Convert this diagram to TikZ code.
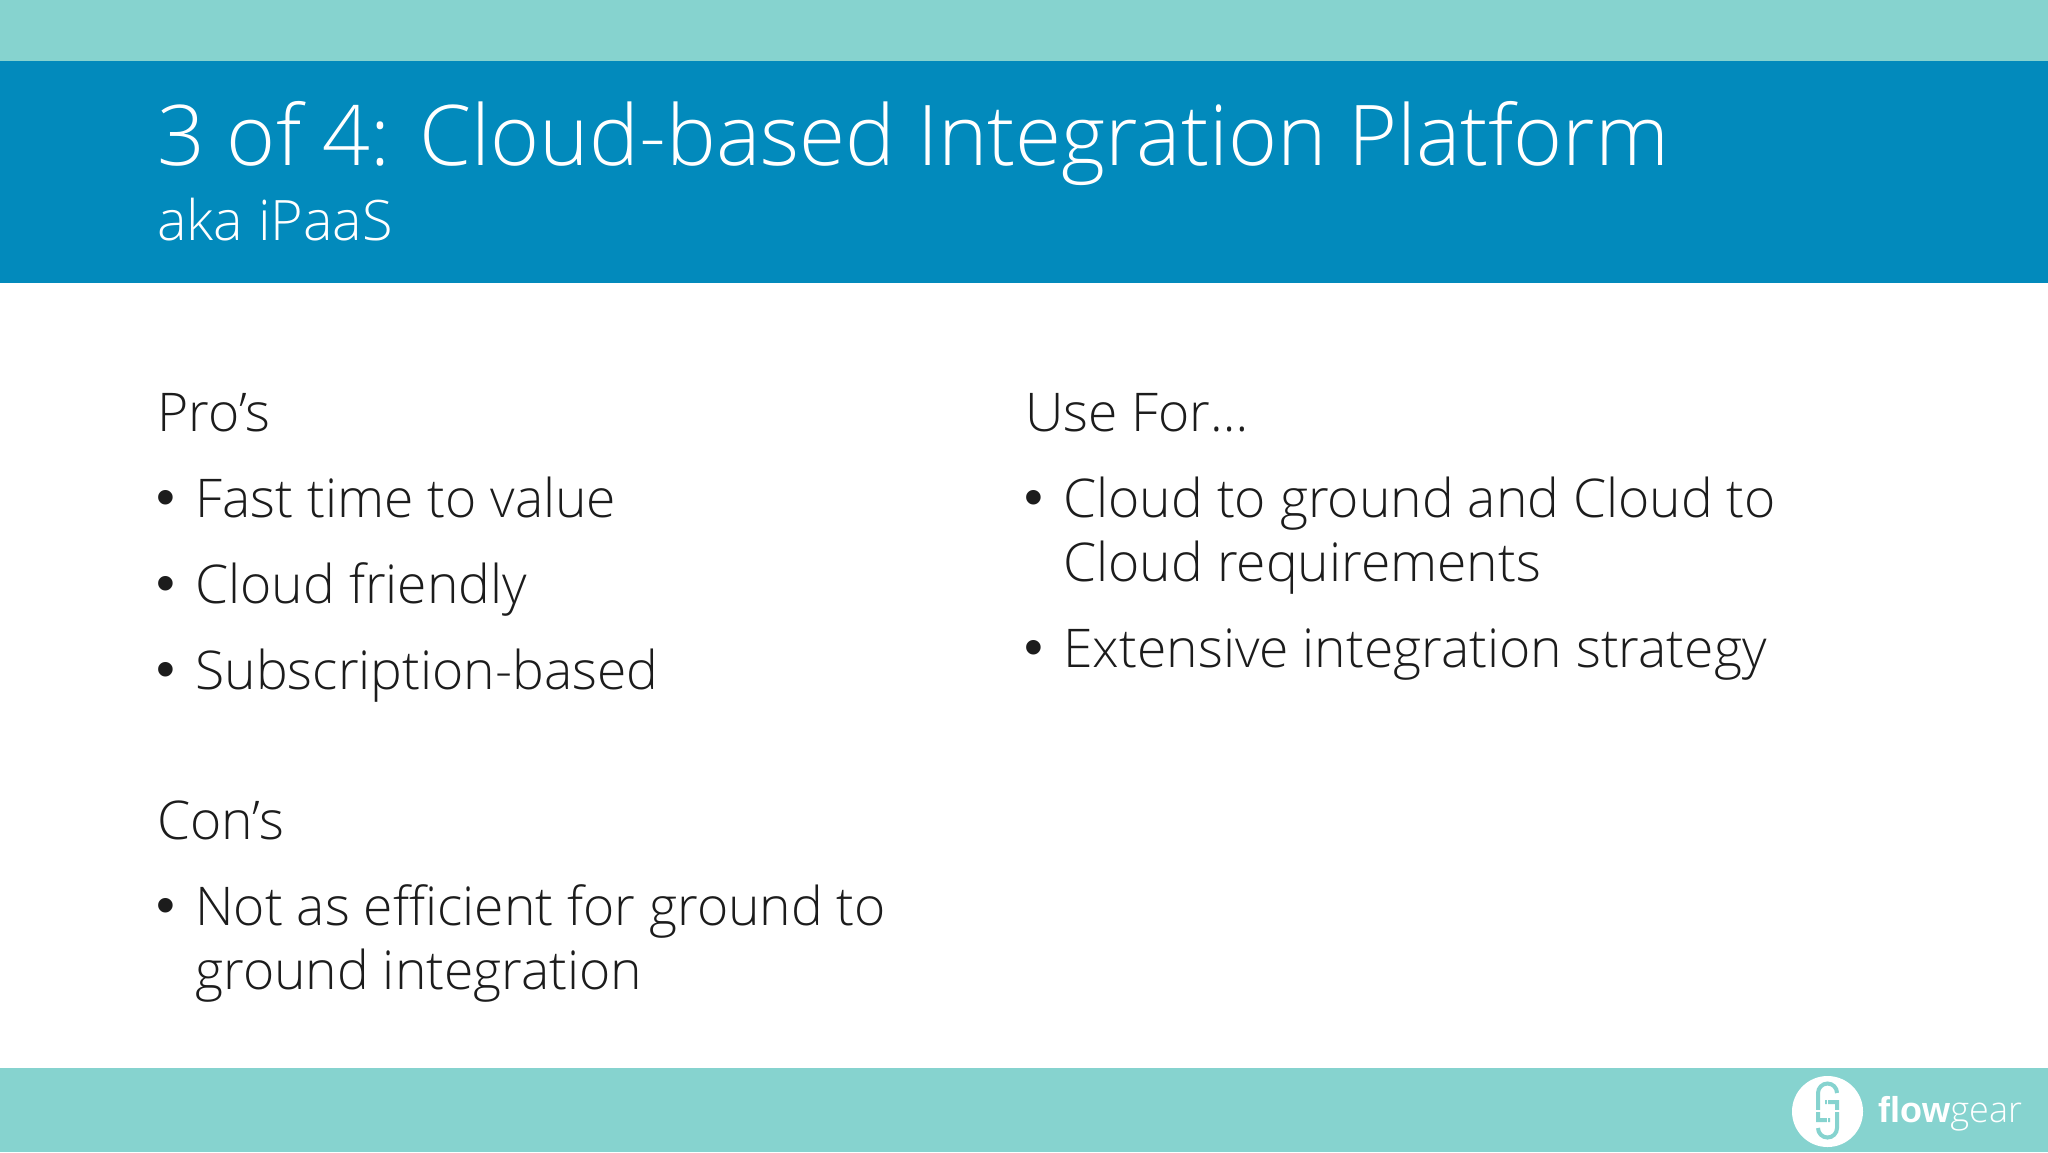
\documentclass[tikz,border=0pt]{standalone}
\usepackage{fontspec}
\setmainfont[Ligatures=NoCommon]{Open Sans Light}
\newfontfamily\logofont{Liberation Sans}
\usetikzlibrary{positioning}
\definecolor{bandteal}{HTML}{86D3CF}
\definecolor{headblue}{HTML}{028ABC}
\definecolor{bodyink}{HTML}{1C1C1C}
\tikzset{
	titletxt/.style={anchor=base west, inner sep=0pt, text=white, font=\fontsize{41.9}{41.9}\selectfont},
	subtxt/.style={anchor=base west, inner sep=0pt, text=white, font=\fontsize{27.9}{27.9}\selectfont},
	bodytxt/.style={anchor=base west, inner sep=0pt, text=bodyink, font=\fontsize{26.7}{26.7}\selectfont},
	bullettxt/.style={anchor=base west, inner sep=0pt, text=bodyink, font=\logofont\fontsize{26.8}{26.8}\selectfont},
	linkline/.style={draw=bandteal, line width=2pt},
	linkcut/.style={draw=white, line width=0.6pt}
}
\begin{document}
\begin{tikzpicture}[x=0.5pt, y=-0.5pt]
	%%%%% BANDS %%%%%
	\useasboundingbox (0, 0) rectangle (2048, 1152);
	\fill[bandteal] (0, 0) rectangle (2048, 61);
	\fill[headblue] (0, 61) rectangle (2048, 283);
	\fill[bandteal] (0, 1068) rectangle (2048, 1152);

	%%%%% HEADING %%%%%
	\node[titletxt] (title) at (157, 165.5) {3 of 4: Cloud-based Integration Platform};
	\node[subtxt] (subtitle) at (157, 240.5) {aka iPaaS};

	%%%%% LEFT COLUMN %%%%%
	\node[bodytxt] (pros) at (157, 431.5) {Pro’s};
	\node[bullettxt] (bulfast) at (156, 515.5) {•};
	\node[bodytxt] (fast) at (195, 517.5) {Fast time to value};
	\node[bullettxt] (bulfriendly) at (156, 601.5) {•};
	\node[bodytxt] (friendly) at (195, 603.5) {Cloud friendly};
	\node[bullettxt] (bulsub) at (156, 687.5) {•};
	\node[bodytxt] (sub) at (195, 689.5) {Subscription-based};
	\node[bodytxt] (cons) at (157, 839.5) {Con’s};
	\node[bullettxt] (bulnot) at (156, 923.5) {•};
	\node[bodytxt] (notas) at (195, 925.5) {Not as efficient for ground to};
	\node[bodytxt] (groundint) at (195, 989.5) {ground integration};

	%%%%% RIGHT COLUMN %%%%%
	\node[bodytxt] (usefor) at (1025, 431.5) {Use For…};
	\node[bullettxt] (bulcloud) at (1024, 515.5) {•};
	\node[bodytxt] (cloudto) at (1063, 517.5) {Cloud to ground and Cloud to};
	\node[bodytxt] (cloudreq) at (1063, 581.5) {Cloud requirements};
	\node[bullettxt] (bulext) at (1024, 665.5) {•};
	\node[bodytxt] (extensive) at (1063, 667.5) {Extensive integration strategy};

	%%%%% LOGO %%%%%
	\fill[white] (1827.5, 1111.5) circle (35.5);
	\draw[linkline] (1837, 1093) arc (0:-180:9.5) -- (1818, 1120) -- (1830, 1120);
	\draw[linkline] (1818, 1128) arc (180:0:9.5) -- (1837, 1102) -- (1825, 1102);
	\draw[linkcut] (1812, 1111) -- (1843, 1111);
	\draw[linkcut] (1827.5, 1096) -- (1827.5, 1127);
	\node[anchor=base west, inner sep=0pt, text=white, font=\fontsize{18}{18}\selectfont] (logo) at (1878, 1122) {{\logofont\bfseries flow}gear};
\end{tikzpicture}
\end{document}
